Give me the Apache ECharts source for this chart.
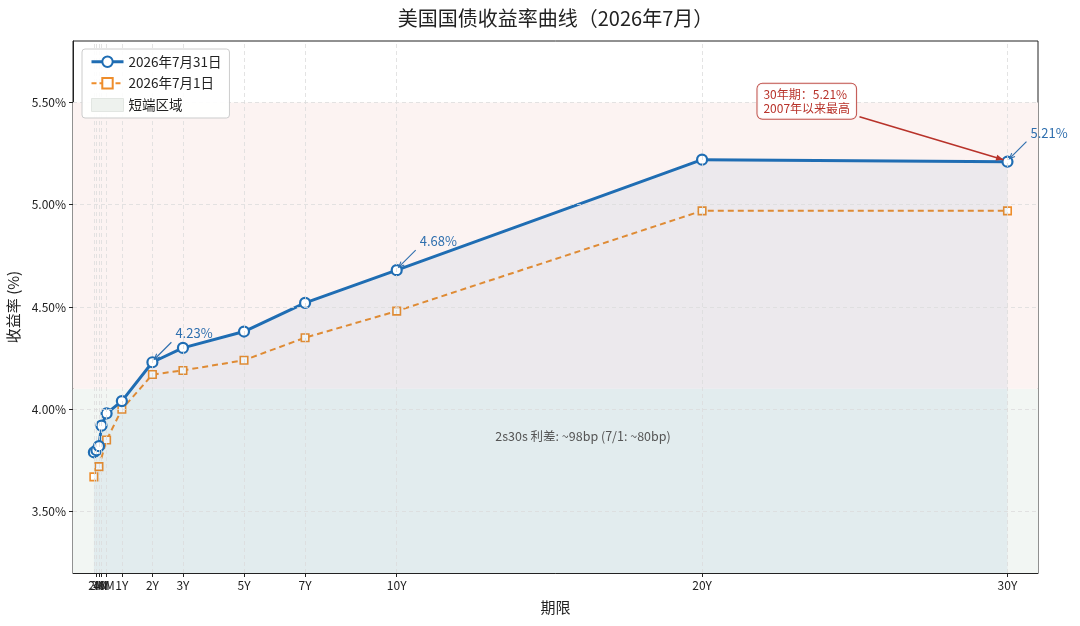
<!DOCTYPE html>
<html>
<head>
<meta charset="utf-8">
<script src="https://cdn.jsdelivr.net/npm/echarts@6/dist/echarts.min.js"></script>
<style>
  html, body { margin: 0; padding: 0; background: #fff; }
  #chart { width: 1080px; height: 626px; }
</style>
</head>
<body>
<div id="chart"></div>
<script>
// 期限（年）与标签
var tenors = [1/12, 2/12, 3/12, 4/12, 0.5, 1, 2, 3, 5, 7, 10, 20, 30];
var tenorLabels = ['1M', '2M', '3M', '4M', '6M', '1Y', '2Y', '3Y', '5Y', '7Y', '10Y', '20Y', '30Y'];
// 收益率 (%)
var yieldJul31 = [3.79, 3.80, 3.82, 3.92, 3.98, 4.04, 4.23, 4.30, 4.38, 4.52, 4.68, 5.22, 5.21];
var yieldJul1 = [3.67, null, 3.72, null, 3.85, 4.00, 4.17, 4.19, 4.24, 4.35, 4.48, 4.97, 4.97];
var yTicks = [3.5, 4.0, 4.5, 5.0, 5.5];

var FONT = '"Noto Sans CJK SC", "Noto Sans", sans-serif';
var BLUE = '#1f6db3';
var ORANGE = '#ee8d2b';
var RED = '#b8322a';

var chart = echarts.init(document.getElementById('chart'));

var dataJul31 = tenors.map(function (t, i) { return [t, yieldJul31[i]]; });
var dataJul1 = [];
tenors.forEach(function (t, i) {
    if (yieldJul1[i] !== null) dataJul1.push([t, yieldJul1[i]]);
});

function tenorLabel(v) {
    for (var i = 0; i < tenors.length; i++) {
        if (Math.abs(tenors[i] - v) < 1e-6) return tenorLabels[i];
    }
    return '';
}

var gridLine = { color: '#dcdcdc', width: 0.8, type: [4, 3] };

chart.setOption({
    animation: false,
    textStyle: { fontFamily: FONT },
    legend: {
        orient: 'vertical',
        left: 82,
        top: 49,
        z: 20,
        backgroundColor: 'rgba(255,255,255,0.93)',
        borderColor: '#cccccc',
        borderWidth: 1,
        borderRadius: 3,
        padding: [6, 8, 6, 8],
        itemGap: 8,
        itemWidth: 32,
        itemHeight: 13,
        textStyle: { fontSize: 13.5, color: '#222', fontFamily: FONT },
        data: [
            { name: '2026年7月31日', lineStyle: { type: 'solid', width: 3, color: BLUE } },
            { name: '2026年7月1日', lineStyle: { type: [5, 3], width: 2, color: ORANGE } },
            { name: '短端区域', icon: 'rect', itemStyle: { color: '#eef2ee', borderColor: '#e2e6e2', borderWidth: 1 } }
        ]
    },
    grid: {
        left: 73, right: 42, top: 41, bottom: 53,
        outerBoundsMode: 'none',
        containLabel: false,
        show: true, borderColor: '#222', borderWidth: 1, backgroundColor: 'transparent'
    },
    xAxis: {
        type: 'value',
        min: -0.6,
        max: 31,
        name: '期限',
        nameLocation: 'middle',
        nameGap: 27,
        nameTextStyle: { fontSize: 15, color: '#222', fontFamily: FONT },
        axisLine: { show: true, onZero: false, lineStyle: { color: '#222' } },
        axisTick: { show: true, length: 4, customValues: tenors, lineStyle: { color: '#222' } },
        axisLabel: {
            customValues: tenors,
            formatter: tenorLabel,
            hideOverlap: false,
            fontSize: 12,
            color: '#222',
            margin: 6,
            fontFamily: FONT
        },
        splitLine: { show: false }
    },
    yAxis: {
        type: 'value',
        min: 3.2,
        max: 5.8,
        name: '收益率 (%)',
        nameLocation: 'middle',
        nameGap: 50,
        nameRotate: 90,
        nameTextStyle: { fontSize: 15, color: '#222', fontFamily: FONT },
        axisLine: { show: true, onZero: false, lineStyle: { color: '#222' } },
        axisTick: { show: true, length: 4, customValues: yTicks, lineStyle: { color: '#222' } },
        axisLabel: {
            customValues: yTicks,
            formatter: function (v) { return v.toFixed(2) + '%'; },
            fontSize: 12,
            color: '#222',
            margin: 7,
            fontFamily: FONT
        },
        splitLine: { show: false }
    },
    series: [
        {
            name: '短端区域',
            type: 'line',
            data: [],
            color: '#eef2ee',
            z: 0,
            silent: true,
            markArea: {
                silent: true,
                data: [
                    [{ yAxis: 3.2, itemStyle: { color: '#f2f6f3' } }, { yAxis: 4.1 }],
                    [{ yAxis: 4.1, itemStyle: { color: '#fcf3f2' } }, { yAxis: 5.5 }]
                ]
            },
            markLine: {
                silent: true,
                symbol: 'none',
                label: { show: false },
                lineStyle: gridLine,
                data: tenors.map(function (t) { return { xAxis: t }; })
                    .concat(yTicks.map(function (v) { return { yAxis: v }; }))
            }
        },
        {
            name: '2026年7月1日',
            type: 'line',
            data: dataJul1,
            color: ORANGE,
            z: 3,
            symbol: 'rect',
            symbolSize: 7.5,
            lineStyle: { color: ORANGE, width: 2, type: [6, 4] },
            itemStyle: { color: '#fff', borderColor: ORANGE, borderWidth: 1.6 }
        },
        {
            name: '2026年7月31日',
            type: 'line',
            data: dataJul31,
            color: BLUE,
            z: 4,
            symbol: 'circle',
            symbolSize: 10,
            lineStyle: { color: BLUE, width: 3 },
            itemStyle: { color: '#fff', borderColor: BLUE, borderWidth: 2.2 },
            areaStyle: { origin: 'start', color: 'rgba(31,110,180,0.10)' }
        }
    ]
});

// 标注：箭头 + 文本
function arrow(x1, y1, x2, y2, color, w, head, filled) {
    var ang = Math.atan2(y2 - y1, x2 - x1);
    var a1 = [x2 - head * Math.cos(ang - 0.4), y2 - head * Math.sin(ang - 0.4)];
    var a2 = [x2 - head * Math.cos(ang + 0.4), y2 - head * Math.sin(ang + 0.4)];
    var items = [{ type: 'line', z: 10, shape: { x1: x1, y1: y1, x2: x2, y2: y2 }, style: { stroke: color, lineWidth: w } }];
    if (filled) {
        items.push({ type: 'polygon', z: 10, shape: { points: [[x2, y2], a1, a2] }, style: { fill: color } });
    } else {
        items.push({ type: 'polyline', z: 10, shape: { points: [a1, [x2, y2], a2] }, style: { stroke: color, lineWidth: w } });
    }
    return items;
}

function px(x, y) { return chart.convertToPixel({ gridIndex: 0 }, [x, y]); }

// 标题居中于绘图区
var pl = px(-0.6, 5.8), pr = px(31, 5.8);
var graphics = [{
    type: 'text', z: 10, x: (pl[0] + pr[0]) / 2, y: 18,
    style: { text: '美国国债收益率曲线（2026年7月）', fill: '#222', fontSize: 20, fontFamily: FONT, align: 'center', verticalAlign: 'middle' }
}];

[6, 10, 12].forEach(function (i) {
    var p = px(tenors[i], yieldJul31[i]);
    graphics = graphics.concat(arrow(p[0] + 19, p[1] - 20, p[0] + 2, p[1] - 3, '#2f6fae', 1.1, 6, false));
    graphics.push({
        type: 'text', z: 10, x: p[0] + 23, y: p[1] - 29,
        style: { text: yieldJul31[i].toFixed(2) + '%', fill: '#2f6fae', fontSize: 13, fontFamily: FONT, verticalAlign: 'middle', align: 'left' }
    });
});

var p30 = px(tenors[12], yieldJul31[12]);
graphics = graphics.concat(arrow(p30[0] - 148, p30[1] - 45, p30[0] - 4, p30[1] - 2, RED, 1.6, 8, true));
graphics.push({
    type: 'text', z: 11, x: p30[0] - 250, y: p30[1] - 78,
    style: {
        text: '30年期：5.21%\n2007年以来最高',
        fill: RED, fontSize: 12, lineHeight: 14, fontFamily: FONT,
        backgroundColor: 'rgba(255,255,255,0.92)', borderColor: '#c0504a', borderWidth: 1, borderRadius: 5,
        padding: [4, 6, 3, 6]
    }
});

var ps = px(16.1, 3.87);
graphics.push({
    type: 'text', z: 10, x: ps[0], y: ps[1],
    style: { text: '2s30s 利差: ~98bp (7/1: ~80bp)', fill: '#555', fontSize: 12.5, fontFamily: FONT, align: 'center', verticalAlign: 'middle' }
});

chart.setOption({ graphic: graphics });
</script>
</body>
</html>
